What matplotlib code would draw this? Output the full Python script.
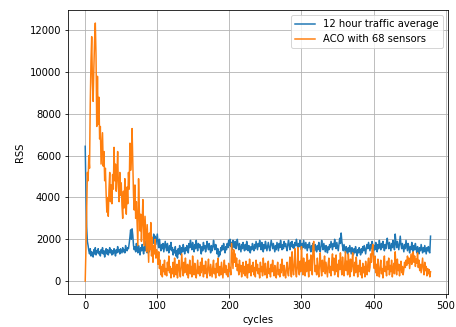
import matplotlib
matplotlib.use('Agg')
import matplotlib.pyplot as plt
import numpy as np

#****************************************
#******* Values
#****************************************
# 12 hour traffic average, one value per cycle
traffic = [
    6450, 4300, 2600, 1900, 1700, 1450, 1300, 1550, 1200, 1400, 1350, 1150, 1500, 1300, 1600, 1250, 1450, 1350, 1550, 1300,
    1400, 1200, 1500, 1350, 1600, 1300, 1450, 1150, 1400, 1550, 1300, 1500, 1250, 1400, 1600, 1350, 1500, 1250, 1450, 1300,
    1550, 1400, 1200, 1500, 1350, 1650, 1400, 1500, 1300, 1550, 1450, 1350, 1600, 1400, 1500, 1350, 1700, 1500, 1450, 1600,
    1550, 1800, 2100, 2450, 2000, 2500, 2200, 1700, 1500, 1650, 1400, 1800, 1550, 1350, 1700, 1500, 1250, 1600, 1450, 1750,
    1500, 1300, 1650, 1450, 1900, 1500, 1350, 1750, 1600, 1400, 1850, 1550, 1700, 2050, 1800, 2250, 1900, 2150, 1750, 2000,
    2250, 1800, 1600, 2000, 1650, 1450, 1750, 1550, 1800, 1400, 1650, 1900, 1600, 1450, 1800, 1550, 1350, 1700, 1500, 1850,
    1450, 1600, 1250, 1500, 1350, 1650, 1200, 1450, 1100, 1550, 1300, 1700, 1450, 1250, 1600, 1400, 1750, 1500, 1300, 1600,
    1450, 1700, 1550, 1350, 1800, 1600, 1950, 1700, 1500, 1850, 1600, 1400, 1750, 1550, 1950, 1650, 1450, 1800, 1600, 1750,
    1500, 1300, 1650, 1450, 1850, 1550, 1700, 1400, 1600, 1900, 1650, 1500, 1800, 1550, 1350, 1700, 1450, 1600, 1950, 1700,
    1500, 1750, 1600, 1300, 1550, 1150, 1400, 1250, 1600, 1450, 1700, 1500, 1800, 1550, 1350, 1650, 1500, 1800, 1600, 1950,
    1700, 2000, 1650, 1850, 1500, 1950, 1700, 1600, 1900, 1550, 1750, 2000, 1700, 1500, 1800, 1600, 1400, 1750, 1550, 1850,
    1600, 1450, 1750, 1500, 1900, 1650, 1450, 1700, 1550, 1350, 1650, 1500, 1800, 1600, 1450, 1750, 1550, 1900, 1700, 1500,
    1800, 1650, 1950, 1700, 1500, 1850, 1600, 1400, 1750, 1550, 1900, 1700, 1450, 1650, 1850, 1600, 1450, 1700, 1950, 1750,
    1550, 1800, 1600, 1400, 1700, 1500, 1850, 1650, 1450, 1800, 1600, 1950, 1700, 1500, 1750, 1550, 1900, 1650, 1800, 1600,
    1450, 1750, 1950, 1700, 1500, 1850, 1650, 1900, 1600, 1750, 1550, 1850, 1700, 2000, 1750, 1550, 1800, 1650, 1950, 1700,
    1500, 1800, 1600, 1950, 1750, 1550, 1850, 1650, 1450, 1750, 1600, 1850, 1550, 1400, 1700, 1500, 1800, 1650, 1450, 1750,
    1550, 1400, 1700, 1500, 1850, 1600, 1400, 1650, 1950, 1700, 1500, 1800, 1600, 1400, 1700, 1550, 1350, 1650, 1500, 1750,
    1600, 1900, 1700, 1500, 1800, 1650, 2000, 1750, 1550, 1850, 1650, 1450, 1750, 2050, 1800, 2300, 1900, 1650, 1450, 1750,
    1550, 1350, 1650, 1450, 1300, 1600, 1400, 1700, 1500, 1300, 1600, 1450, 1250, 1550, 1350, 1650, 1450, 1200, 1500, 1350,
    1600, 1400, 1250, 1550, 1350, 1650, 1450, 1700, 1500, 1300, 1600, 1750, 1550, 1850, 1650, 1450, 1750, 1550, 1900, 1650,
    1450, 1700, 1500, 1850, 1600, 1400, 1750, 1550, 1950, 1700, 1500, 1800, 1600, 1900, 1650, 1450, 1750, 1550, 1850, 2050,
    1750, 1550, 1850, 1650, 1450, 1800, 1600, 1950, 1700, 1500, 2250, 1850, 1600, 1900, 1700, 1500, 1850, 2150, 1750, 1550,
    1800, 1600, 1400, 1750, 1550, 1950, 1700, 1450, 1800, 1600, 1350, 1650, 1500, 1850, 1600, 1400, 1700, 1500, 1800, 1550,
    1350, 1650, 1500, 1300, 1600, 1450, 1750, 1550, 1350, 1600, 1400, 1700, 1500, 1300, 1600, 1450, 1650, 1400, 1350, 2150,
]

# ACO with 68 sensors, one value per cycle
aco = [
    0, 1500, 3500, 5200, 4800, 6000, 5400, 8500, 10500, 11700, 9500, 8600, 10200, 11500, 12350, 10800, 7400, 9800, 7500, 8800,
    6800, 7400, 5600, 6300, 7100, 5500, 6200, 4800, 5400, 4200, 3300, 4000, 3100, 4400, 5200, 3800, 4600, 3700, 5100, 4400,
    6400, 4800, 5600, 4300, 5000, 6200, 4500, 3800, 5200, 4100, 4700, 3600, 3000, 4300, 3500, 4900, 3900, 3200, 4500, 3700,
    5200, 4400, 6600, 5300, 5900, 7300, 5800, 4100, 3400, 4600, 3000, 3800, 2700, 1700, 4900, 3500, 2400, 3200, 1900, 2800,
    3900, 2600, 1700, 3100, 2200, 1400, 2700, 1800, 900, 2300, 1500, 2800, 1200, 2100, 900, 1700, 1300, 2000, 1100, 1500,
    1300, 800, 1400, 600, 1000, 300, 700, 200, 800, 450, 1000, 300, 600, 250, 900, 500, 1200, 400, 700, 150,
    600, 350, 900, 200, 1100, 500, 300, 800, 150, 650, 1000, 400, 200, 750, 1300, 550, 250, 900, 400, 1100,
    600, 300, 800, 150, 500, 1000, 350, 700, 200, 1200, 550, 300, 850, 450, 150, 600, 1000, 350, 700, 250,
    900, 400, 1100, 600, 200, 750, 350, 950, 500, 150, 650, 1050, 400, 250, 800, 500, 200, 700, 1000, 350,
    600, 150, 850, 400, 1100, 550, 250, 700, 300, 900, 500, 150, 650, 1000, 400, 750, 300, 550, 200, 850,
    450, 650, 300, 1800, 1200, 600, 1500, 900, 1300, 700, 1100, 500, 800, 300, 1000, 450, 750, 200, 600, 900,
    350, 700, 250, 950, 500, 150, 800, 400, 1050, 600, 250, 750, 450, 900, 300, 650, 200, 1000, 500, 800,
    350, 600, 150, 900, 450, 700, 250, 1100, 550, 300, 850, 400, 150, 700, 950, 350, 600, 200, 800, 450,
    1000, 500, 250, 750, 400, 150, 650, 900, 300, 550, 200, 800, 400, 1050, 600, 250, 750, 350, 150, 600,
    900, 400, 250, 750, 1150, 500, 200, 1400, 600, 300, 850, 1550, 450, 200, 700, 1600, 550, 300, 950, 450,
    1650, 800, 300, 1100, 600, 250, 900, 450, 1300, 700, 200, 1000, 500, 1250, 650, 300, 1700, 1900, 900, 450,
    750, 300, 1100, 550, 200, 850, 1350, 600, 250, 1000, 450, 700, 1200, 350, 900, 550, 200, 800, 1100, 400,
    700, 250, 950, 1300, 500, 1100, 300, 650, 1250, 450, 800, 200, 1000, 550, 1350, 700, 300, 1150, 600, 250,
    850, 1400, 500, 950, 300, 1300, 700, 200, 1050, 450, 800, 1350, 550, 250, 900, 400, 1150, 600, 200, 750,
    450, 1000, 300, 650, 150, 850, 400, 700, 200, 950, 500, 300, 800, 1100, 450, 650, 1300, 900, 1550, 1750,
    1000, 600, 1200, 400, 800, 250, 1050, 500, 200, 700, 1000, 350, 600, 150, 850, 1200, 450, 700, 250, 950,
    550, 1100, 300, 750, 450, 1000, 200, 600, 850, 350, 1400, 700, 300, 1050, 500, 800, 250, 650, 950, 400,
    700, 300, 550, 900, 650, 1000, 750, 1200, 850, 1100, 600, 950, 1300, 800, 1150, 1400, 900, 1200, 700, 1050,
    850, 1350, 650, 1000, 500, 800, 400, 750, 1100, 600, 300, 900, 500, 700, 250, 600, 350, 550, 200, 450,
]

labels = ['12 hour traffic average', 'ACO with 68 sensors']

#****************************************
#******* Plotting
#****************************************
fig = plt.figure(figsize=(456/72, 327/72), dpi=72)
ax = fig.add_subplot(111)
fig.subplots_adjust(left=0.149, right=0.982, top=0.969, bottom=0.101)

ax.plot(np.arange(len(traffic)), traffic, label=labels[0])
ax.plot(np.arange(len(aco)), aco, label=labels[1])
ax.set_xlabel('cycles')
ax.set_ylabel('RSS')
ax.grid()
ax.legend(loc='upper right')

plt.savefig('out.png', dpi=72)
